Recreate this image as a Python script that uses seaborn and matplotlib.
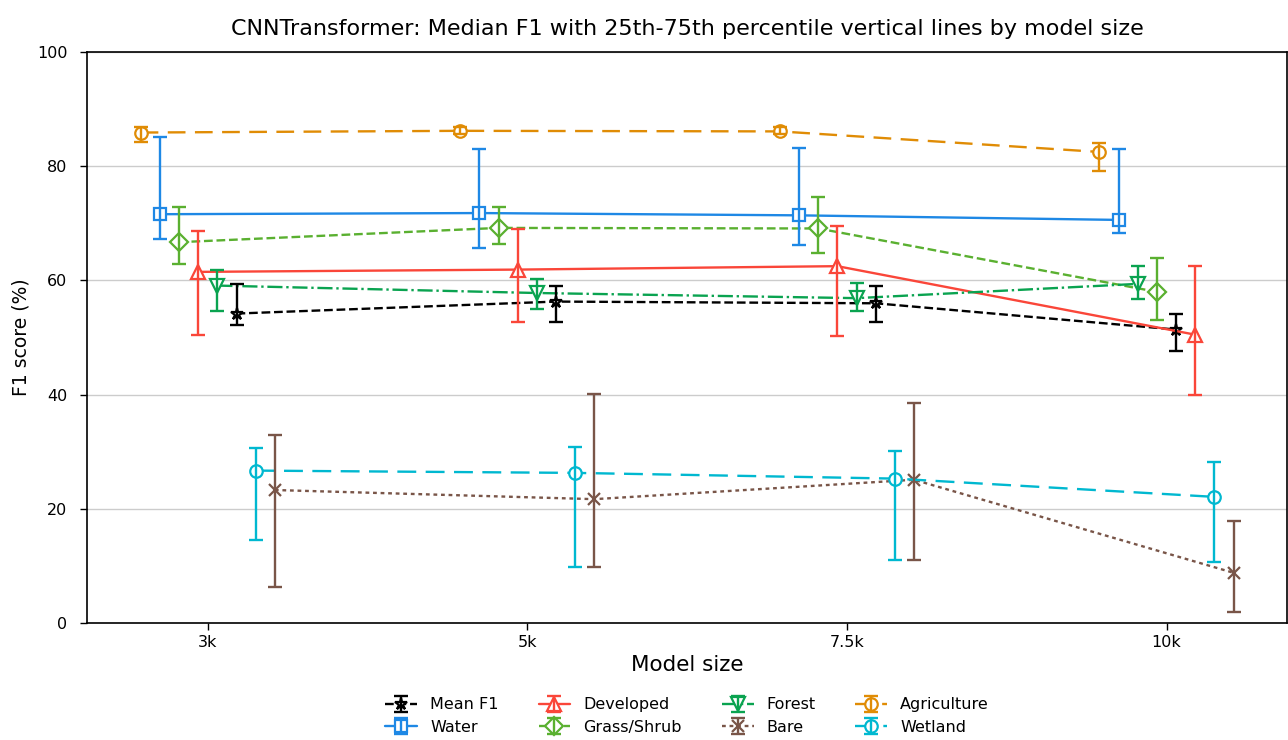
import matplotlib
matplotlib.use("Agg")
import matplotlib.pyplot as plt
from matplotlib.legend_handler import HandlerTuple
import numpy as np
import seaborn as sns

# Model sizes on the x axis
sizes = ["3k", "5k", "7.5k", "10k"]

# Class names in legend order
classes = ["Mean F1", "Water", "Developed", "Grass/Shrub",
           "Forest", "Bare", "Agriculture", "Wetland"]

# Median F1 (%) per class and model size
median_mean_f1 = [54.2, 56.3, 56.0, 51.4]
median_water = [71.6, 71.8, 71.4, 70.6]
median_developed = [61.5, 61.9, 62.5, 50.5]
median_grass = [66.7, 69.2, 69.1, 58.0]
median_forest = [59.1, 57.8, 56.9, 59.4]
median_bare = [23.3, 21.7, 25.1, 8.8]
median_agriculture = [85.9, 86.2, 86.1, 82.5]
median_wetland = [26.7, 26.3, 25.3, 22.1]

# 25th percentile
p25_mean_f1 = [52.2, 52.8, 52.7, 47.6]
p25_water = [67.3, 65.6, 66.2, 68.3]
p25_developed = [50.4, 52.8, 50.2, 40.0]
p25_grass = [62.9, 66.3, 64.8, 53.0]
p25_forest = [54.7, 55.0, 54.7, 56.7]
p25_bare = [6.3, 9.9, 11.0, 1.9]
p25_agriculture = [84.2, 85.6, 85.6, 79.1]
p25_wetland = [14.5, 9.9, 11.0, 10.7]

# 75th percentile
p75_mean_f1 = [59.4, 59.1, 59.1, 54.1]
p75_water = [85.1, 83.1, 83.2, 83.1]
p75_developed = [68.7, 69.0, 69.6, 62.5]
p75_grass = [72.9, 72.9, 74.6, 63.9]
p75_forest = [61.9, 60.2, 59.5, 62.6]
p75_bare = [32.9, 40.1, 38.5, 17.8]
p75_agriculture = [86.9, 86.8, 86.8, 84.1]
p75_wetland = [30.6, 30.8, 30.1, 28.2]

medians = [median_mean_f1, median_water, median_developed, median_grass,
           median_forest, median_bare, median_agriculture, median_wetland]
p25s = [p25_mean_f1, p25_water, p25_developed, p25_grass,
        p25_forest, p25_bare, p25_agriculture, p25_wetland]
p75s = [p75_mean_f1, p75_water, p75_developed, p75_grass,
        p75_forest, p75_bare, p75_agriculture, p75_wetland]

styles = {
    "Mean F1":     dict(color="black",   marker="*", ls="--",              ms=9),
    "Water":       dict(color="#1e88e5", marker="s", ls="-",               ms=9),
    "Developed":   dict(color="#fa4639", marker="^", ls="-",               ms=10),
    "Grass/Shrub": dict(color="#5ab030", marker="D", ls="--",              ms=9),
    "Forest":      dict(color="#0aa350", marker="v", ls="-.",              ms=10),
    "Bare":        dict(color="#795548", marker="x", ls=(0, (1.6, 1.6)),   ms=9),
    "Agriculture": dict(color="#e08c05", marker="o", ls=(0, (7.5, 4.0)),   ms=9),
    "Wetland":     dict(color="#00b8d0", marker="o", ls=(0, (8.0, 4.0)),   ms=9),
}

sns.set_style("ticks", {"axes.grid": True, "grid.color": "#cccccc",
                        "axes.edgecolor": "black"})
plt.rcParams["font.family"] = ["DejaVu Sans"]
plt.rcParams["text.color"] = "black"
plt.rcParams["axes.labelcolor"] = "black"
plt.rcParams["xtick.color"] = "black"
plt.rcParams["ytick.color"] = "black"

fig, ax = plt.subplots(figsize=(12.88, 7.4), dpi=100)
fig.subplots_adjust(left=0.0675, right=0.9995, top=0.9297, bottom=0.158)

# Within each model size, series are spread side by side ordered by median
med_arr = np.array(medians)
n = len(classes)
step = 0.06
offsets = np.zeros_like(med_arr)
for j in range(len(sizes)):
    order = np.argsort(-med_arr[:, j])
    for rank, i in enumerate(order):
        offsets[i, j] = (rank - (n - 1) / 2) * step
base = np.arange(len(sizes))

handles = []
for i, name in enumerate(classes):
    st = styles[name]
    x = base + offsets[i]
    med = np.array(medians[i])
    lo = np.array(p25s[i])
    hi = np.array(p75s[i])
    sns.lineplot(x=x, y=med, ax=ax, color=st["color"], linestyle=st["ls"],
                 linewidth=1.7, marker=st["marker"], markersize=st["ms"],
                 markerfacecolor="white", markeredgecolor=st["color"],
                 markeredgewidth=1.6, errorbar=None, zorder=2)
    line = ax.lines[-1]
    err = ax.errorbar(x, med, yerr=[med - lo, hi - med], fmt="none",
                      ecolor=st["color"], elinewidth=1.7, capsize=5,
                      capthick=1.7, zorder=3)
    handles.append((line, err))

ax.set_xlim(-0.378, 3.378)
ax.set_ylim(0, 100)
ax.set_xticks(base)
ax.set_xticklabels(sizes)
ax.set_yticks(np.arange(0, 101, 20))
ax.grid(axis="x", visible=False)
ax.grid(axis="y", color="#cccccc", linewidth=1)
ax.tick_params(axis="both", labelsize=11.5, length=5, width=1)
ax.tick_params(axis="y", pad=9)
for sp in ax.spines.values():
    sp.set_visible(True)
    sp.set_color("black")
    sp.set_linewidth(1.2)

ax.set_xlabel("Model size", fontsize=15.5)
ax.set_ylabel("F1 score (%)", fontsize=13.5, labelpad=5)
ax.set_title("CNNTransformer: Median F1 with 25th-75th percentile vertical lines by model size",
             fontsize=16, pad=12)

ax.legend(handles, classes, handler_map={tuple: HandlerTuple(ndivide=1)},
          loc="upper center", bbox_to_anchor=(0.5, -0.105), ncol=4,
          frameon=False, fontsize=11.5, labelspacing=0.45,
          columnspacing=2.5, handletextpad=0.8)

fig.savefig("out.png", dpi=100)
